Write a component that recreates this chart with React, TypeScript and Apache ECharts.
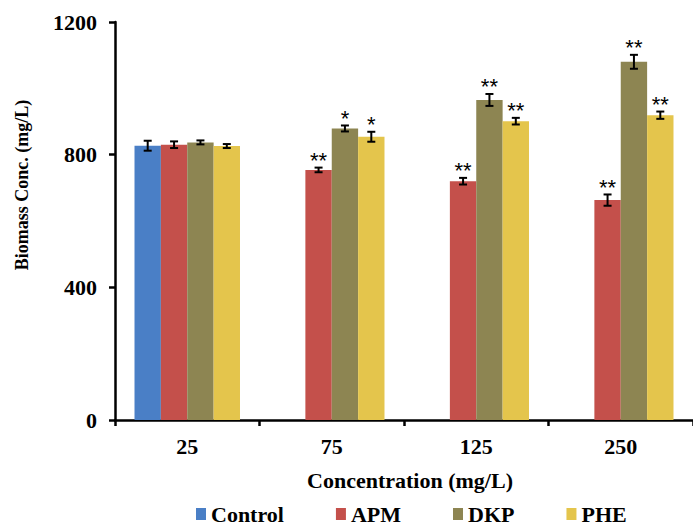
import React, { useEffect, useRef } from "react";
import * as echarts from "echarts";

const categories = ["25", "75", "125", "250"];
const seriesNames = ["Control", "APM", "DKP", "PHE"];
const controlValues: (number | null)[] = [827, null, null, null];
const apmValues: (number | null)[] = [830, 754, 720, 663];
const dkpValues: (number | null)[] = [837, 879, 965, 1080];
const pheValues: (number | null)[] = [826, 854, 901, 919];
const controlErr = [15, 0, 0, 0];
const apmErr = [10, 7, 10, 17];
const dkpErr = [6, 9, 18, 21];
const pheErr = [6, 15, 10, 11];
const controlStars = ["", "", "", ""];
const apmStars = ["", "**", "**", "**"];
const dkpStars = ["", "*", "**", "**"];
const pheStars = ["", "*", "**", "**"];
const yTicks = [0, 400, 800, 1200];

const colors = ["#4A7FC6", "#C4504B", "#8D8552", "#E4C54C"];
const FONT = "Liberation Serif";

export default function App() {
  const ref = useRef<HTMLDivElement>(null);
  useEffect(() => {
    if (!ref.current) return;
    const chart = echarts.init(ref.current, undefined, { renderer: "svg" });
    const values = [controlValues, apmValues, dkpValues, pheValues];
    const errs = [controlErr, apmErr, dkpErr, pheErr];
    const stars = [controlStars, apmStars, dkpStars, pheStars];
    const catGap = 0.27;

    const barSeries = values.map((vals, k) => ({
      name: seriesNames[k],
      type: "bar",
      data: vals.map((v) => (v == null ? "-" : v)),
      itemStyle: { color: colors[k] },
      barGap: "0%",
      barCategoryGap: "27%",
    }));

    const errSeries = values.map((vals, k) => {
      const items: { ci: number; v: number; e: number; s: string }[] = [];
      vals.forEach((v, i) => {
        if (v != null) items.push({ ci: i, v, e: errs[k][i], s: stars[k][i] });
      });
      return {
        type: "custom",
        name: seriesNames[k] + " err",
        data: items.map((it) => [it.ci, it.v, it.e]),
        encode: { x: 0, y: 1 },
        z: 5,
        renderItem: (params: any, api: any) => {
          const it = items[params.dataIndex];
          const band = api.size([1, 0])[0];
          const barW = (band * (1 - catGap)) / 4;
          const c = api.coord([it.ci, it.v]);
          const x = c[0] + (k - 1.5) * barW;
          const yTop = api.coord([it.ci, it.v + it.e])[1];
          const yBot = api.coord([it.ci, it.v - it.e])[1];
          const cap = 4;
          const st = { stroke: "#000", lineWidth: 2 };
          const children: any[] = [
            { type: "line", shape: { x1: x, y1: yTop, x2: x, y2: yBot }, style: st },
            { type: "line", shape: { x1: x - cap, y1: yTop, x2: x + cap, y2: yTop }, style: st },
            { type: "line", shape: { x1: x - cap, y1: yBot, x2: x + cap, y2: yBot }, style: st },
          ];
          if (it.s) {
            children.push({
              type: "text",
              x,
              y: yTop - 7,
              style: {
                text: it.s,
                fill: "#000",
                font: "22px 'Liberation Sans'",
                textAlign: "center",
                textVerticalAlign: "middle",
              },
            });
          }
          return { type: "group", children };
        },
      };
    });

    chart.setOption({
      animation: false,
      color: colors,
      textStyle: { fontFamily: FONT },
      grid: { left: 115, right: -6, top: 22, bottom: 107, containLabel: false },
      legend: {
        data: seriesNames,
        left: 196,
        top: 503,
        padding: 0,
        icon: "rect",
        itemWidth: 10,
        itemHeight: 12,
        itemGap: 52,
        textStyle: { fontFamily: FONT, fontWeight: "bold", fontSize: 22, color: "#000" },
      },
      xAxis: {
        type: "category",
        data: categories,
        axisLine: { lineStyle: { color: "#000", width: 2.5 } },
        axisTick: { show: true, length: 6, lineStyle: { color: "#000", width: 2.5 } },
        axisLabel: {
          margin: 15,
          fontFamily: FONT,
          fontWeight: "bold",
          fontSize: 22,
          color: "#000",
        },
      },
      yAxis: {
        type: "value",
        min: yTicks[0],
        max: yTicks[yTicks.length - 1],
        interval: 400,
        splitLine: { show: false },
        axisLine: { show: true, lineStyle: { color: "#000", width: 2.5 } },
        axisTick: { show: true, length: 6, lineStyle: { color: "#000", width: 2.5 } },
        axisLabel: {
          margin: 18,
          fontFamily: FONT,
          fontWeight: "bold",
          fontSize: 22,
          color: "#000",
          formatter: (v: number) => String(v),
        },
      },
      graphic: [
        {
          type: "text",
          x: 410,
          y: 480,
          style: {
            text: "Concentration (mg/L)",
            font: `bold 22px '${FONT}'`,
            fill: "#000",
            textAlign: "center",
            textVerticalAlign: "middle",
          },
        },
        {
          type: "text",
          x: 22,
          y: 185,
          rotation: Math.PI / 2,
          style: {
            text: "Biomass Conc. (mg/L)",
            font: `bold 18px '${FONT}'`,
            fill: "#000",
            textAlign: "center",
            textVerticalAlign: "middle",
          },
        },
      ],
      series: [...barSeries, ...errSeries],
    });
    return () => chart.dispose();
  }, []);
  return (
    <div
      ref={ref}
      style={{ position: "absolute", left: 0, top: 0, width: 693, height: 527, background: "#fff" }}
    />
  );
}
